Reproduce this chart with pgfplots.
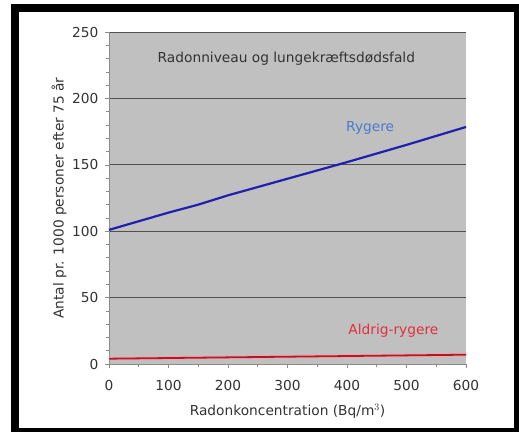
\documentclass[border=0pt]{standalone}
\usepackage{pgfplots}
\pgfplotsset{compat=1.18}
\usepackage{fontspec}
\setmainfont{DejaVu Sans}
\definecolor{plotgray}{HTML}{C0C0C0}
\definecolor{gridc}{HTML}{505050}
\definecolor{axc}{HTML}{8A8A8A}
\definecolor{txt}{HTML}{333333}
\definecolor{blueline}{HTML}{2020B0}
\definecolor{bluetxt}{HTML}{4A7BD0}
\definecolor{redline}{HTML}{D02030}
\definecolor{redtxt}{HTML}{E03040}
\begin{document}
\begin{tikzpicture}[x=1bp,y=1bp]
\fill[white] (0,0) rectangle (519,432);
\fill[black] (11,0) rectangle (519,428);
\fill[white] (19,4) rectangle (514,420);
\begin{axis}[
  at={(109bp,68bp)}, anchor=origin,
  scale only axis, width=357bp, height=332bp,
  xmin=0, xmax=600, ymin=0, ymax=250,
  axis background/.style={fill=plotgray},
  axis x line=bottom, axis y line=left,
  axis line style={axc, -, line width=0.8pt},
  xtick={0,100,...,600}, minor xtick={50,150,...,550},
  ytick={0,50,...,250}, minor ytick={10,20,...,240},
  tick align=outside,
  major tick length=4bp, minor tick length=3bp,
  tick style={axc, line width=0.6pt},
  ymajorgrids, major grid style={gridc, line width=0.8pt},
  font=\fontsize{13.8}{16}\selectfont,
  tick label style={txt, font=\fontsize{13.8}{16}\selectfont},
  xticklabel style={yshift=-9bp},
  yticklabel style={xshift=-3bp},
  /pgf/number format/assume math mode=true,
  xlabel={Radonkoncentration (Bq/m$^3$)},
  ylabel={Antal pr. 1000 personer efter 75 år},
  xlabel style={txt, yshift=-6bp},
  ylabel style={txt, yshift=-1bp},
  clip=false,
]
\addplot[redline!40, line width=3.6pt] coordinates {(0,4) (100,4.5) (200,5) (300,5.5) (400,6) (500,6.5) (600,7)};
\addplot[redline!85!black, line width=1.8pt] coordinates {(0,4) (100,4.5) (200,5) (300,5.5) (400,6) (500,6.5) (600,7)};
\addplot[blueline, line width=2.2pt] coordinates {(0,101) (100,114) (150,120) (200,127) (300,139.5) (400,152) (500,165) (600,178.5)};
\node[txt] at (axis cs:298,230) {Radonniveau og lungekræftsdødsfald};
\node[bluetxt] at (axis cs:439,178) {Rygere};
\node[redtxt] at (axis cs:478,25) {Aldrig-rygere};
\end{axis}
\end{tikzpicture}
\end{document}
